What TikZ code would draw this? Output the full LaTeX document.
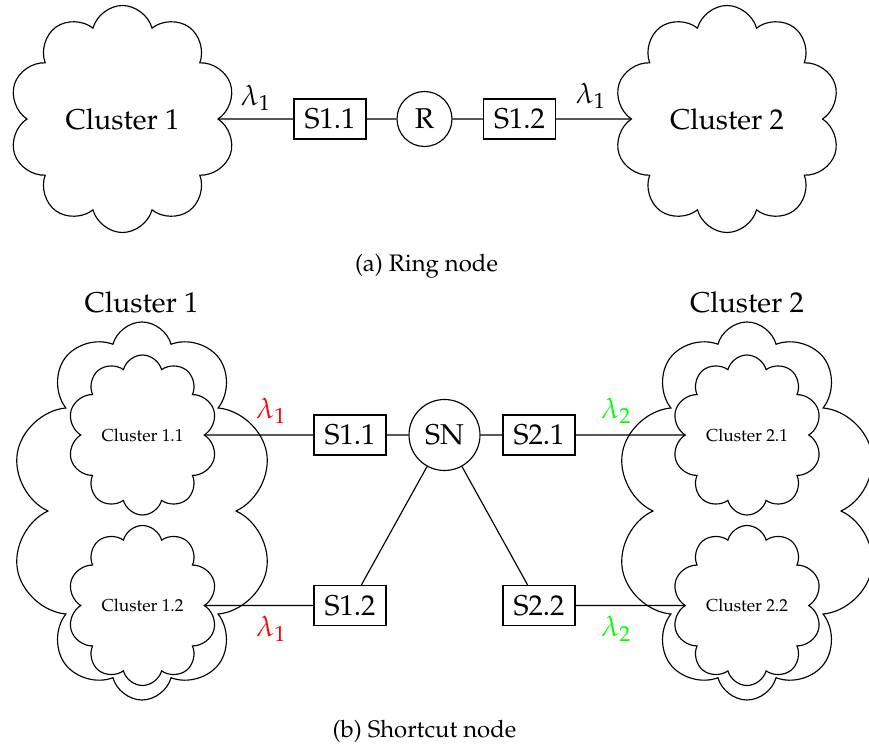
\documentclass[tikz,border=0pt]{standalone}
\usepackage[T1]{fontenc}
\usepackage{mathpazo}
\usetikzlibrary{shapes.symbols}
\definecolor{lgreen}{rgb}{0,1,0}
\def\PX{0.349pt}
\begin{document}
\begin{tikzpicture}[x=\PX,y=-\PX,
  mainfont/.style={font=\fontsize{10}{12}\selectfont},
  bigcloud/.style={cloud, draw, cloud puffs=10, inner sep=0pt, minimum width=227*\PX, minimum height=227*\PX},
  outercloud/.style={cloud, draw, cloud puffs=10, inner sep=0pt, minimum width=262*\PX, minimum height=378*\PX},
  smallcloud/.style={cloud, draw, fill=white, cloud puffs=10, inner sep=0pt, minimum width=150*\PX, minimum height=160*\PX},
  smalltext/.style={font=\fontsize{6.05}{7}\selectfont, inner sep=0pt},
  boxnode/.style={draw, rectangle, inner sep=0pt, minimum width=72*\PX, minimum height=40*\PX, mainfont},
  circnode/.style={draw, circle, inner sep=0pt, mainfont},
  lam/.style={mainfont, inner sep=0pt},
  captext/.style={font=\fontsize{8.34}{10}\selectfont, inner sep=0pt, anchor=base},
]
\useasboundingbox (0,0) rectangle (869,746);
% (a) ring node
\node[bigcloud] (c1) at (122.5,119) {};
\node[mainfont, inner sep=0pt] (t1) at (c1.center) {Cluster 1};
\node[bigcloud] (c2) at (727,119) {};
\node[mainfont, inner sep=0pt] (t2) at (c2.center) {Cluster 2};
\node[boxnode] (s11) at (330,119) {S1.1};
\node[circnode, minimum size=55*\PX] (r) at (424.5,119) {R};
\node[boxnode] (s12) at (519.5,119) {S1.2};
\draw (c1) -- (s11) -- (r) -- (s12) -- (c2);
\node[lam] (la1) at (256,98) {$\lambda_1$};
\node[lam] (la2) at (591,96) {$\lambda_1$};
\node[captext] (capa) at (426.5,272) {(a) Ring node};
% (b) shortcut node
\node[outercloud] (o1) at (142,511) {};
\node[outercloud] (o2) at (747,511) {};
\node[smallcloud] (c11) at (142.5,435) {};
\node[smallcloud] (c12) at (142.5,605.5) {};
\node[smallcloud] (c21) at (747,435) {};
\node[smallcloud] (c22) at (747,605.5) {};
\node[smalltext] (t11) at (c11.center) {Cluster 1.1};
\node[smalltext] (t12) at (c12.center) {Cluster 1.2};
\node[smalltext] (t21) at (c21.center) {Cluster 2.1};
\node[smalltext] (t22) at (c22.center) {Cluster 2.2};
\node[mainfont, anchor=base, inner sep=0pt] (lab1) at (141.5,313) {Cluster 1};
\node[mainfont, anchor=base, inner sep=0pt] (lab2) at (747,313) {Cluster 2};
\node[boxnode] (b11) at (350,435) {S1.1};
\node[boxnode] (b12) at (350,605.5) {S1.2};
\node[circnode, minimum size=71*\PX] (sn) at (444.5,435) {SN};
\node[boxnode] (b21) at (539,435) {S2.1};
\node[boxnode] (b22) at (539,605.5) {S2.2};
\draw (c11) -- (b11) -- (sn) -- (b21) -- (c21);
\draw (c12) -- (b12) -- (sn) -- (b22) -- (c22);
\node[lam, text=red] (lr1) at (271.5,411) {$\lambda_1$};
\node[lam, text=red] (lr2) at (271.5,629) {$\lambda_1$};
\node[lam, text=lgreen] (lg1) at (616.5,411) {$\lambda_2$};
\node[lam, text=lgreen] (lg2) at (616.5,629) {$\lambda_2$};
\node[captext] (capb) at (424.5,737) {(b) Shortcut node};
\end{tikzpicture}
\end{document}
